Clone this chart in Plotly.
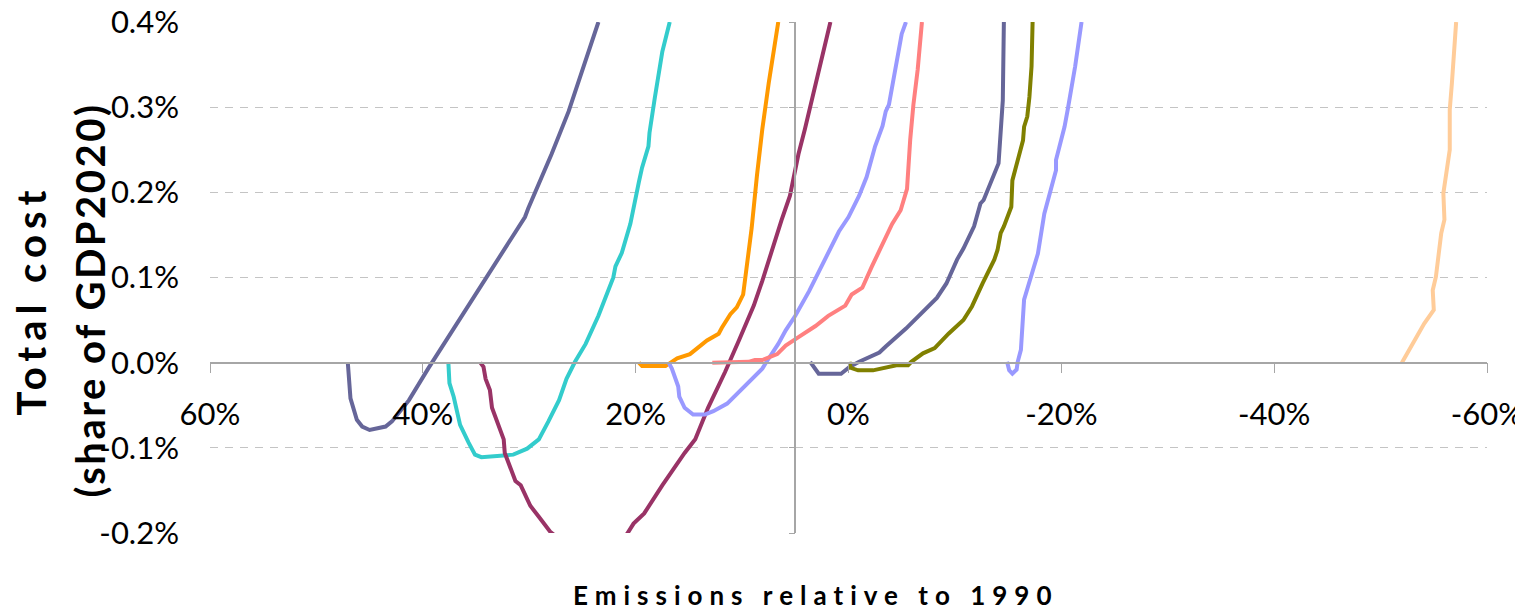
import plotly.graph_objects as go

# ---------------- data (emissions relative to 1990 in %, total cost in % of GDP2020) -------------
s1_x = [47.05, 46.8, 46.2, 45.7, 45.0, 43.5, 42.9, 41.3, 39.5, 36.3, 33.2, 30.4, 30.1, 27.9, 26.3, 25.0, 23.5]
s1_y = [0.0, -0.042, -0.067, -0.075, -0.079, -0.075, -0.069, -0.044, -0.007, 0.055, 0.117, 0.171, 0.181, 0.245, 0.295, 0.344, 0.400]

s2_x = [37.6, 37.5, 37.1, 36.5, 35.7, 35.1, 34.5, 31.5, 30.2, 29.1, 28.2, 27.2, 26.5, 25.7, 24.7, 23.5, 22.1,
        21.9, 21.3, 20.5, 19.7, 19.4, 18.8, 18.7, 18.2, 17.5, 16.8]
s2_y = [0.0, -0.024, -0.040, -0.073, -0.094, -0.108, -0.111, -0.108, -0.101, -0.090, -0.069, -0.044, -0.019,
        0.001, 0.022, 0.055, 0.100, 0.113, 0.129, 0.163, 0.212, 0.229, 0.254, 0.270, 0.311, 0.365, 0.400]

s3_x = [34.6, 34.3, 34.1, 33.7, 33.5, 33.0, 32.4, 32.3, 31.8, 31.3, 30.8, 29.9, 29.1, 28.0, 26.0, 23.0,
        20.8, 20.2, 19.2, 17.5, 15.4, 14.4, 13.2, 11.6, 10.3, 8.9, 8.1, 6.9, 6.3, 5.5, 4.7, 4.1, 3.1, 2.3, 1.7]
s3_y = [0.0, -0.005, -0.019, -0.032, -0.053, -0.069, -0.090, -0.106, -0.123, -0.139, -0.144, -0.168, -0.181,
        -0.199, -0.218, -0.218, -0.201, -0.189, -0.177, -0.144, -0.106, -0.090, -0.053, -0.011, 0.026, 0.067,
        0.096, 0.146, 0.167, 0.196, 0.245, 0.274, 0.328, 0.369, 0.400]

s4_x = [19.7, 19.4, 17.2, 16.1, 14.9, 14.3, 13.3, 12.2, 11.9, 11.1, 10.5, 9.9, 9.6, 9.1, 8.6, 8.1, 7.5, 6.9, 6.6]
s4_y = [0.0, -0.004, -0.004, 0.005, 0.010, 0.016, 0.026, 0.034, 0.041, 0.057, 0.065, 0.080, 0.109, 0.158,
        0.220, 0.274, 0.328, 0.373, 0.400]

s5_x = [16.9, 16.6, 16.0, 15.9, 15.4, 14.6, 13.5, 12.7, 11.4, 10.3, 9.1, 8.1, 7.7, 6.6, 5.9, 5.0, 3.7, 2.2,
        0.9, 0.0, -1.0, -1.7, -2.5, -3.2, -3.5, -3.8, -4.4, -4.7, -5.0, -5.4]
s5_y = [0.0, -0.007, -0.028, -0.040, -0.053, -0.061, -0.061, -0.057, -0.048, -0.034, -0.019, -0.007, 0.001,
        0.022, 0.038, 0.055, 0.084, 0.121, 0.154, 0.171, 0.196, 0.218, 0.254, 0.278, 0.295, 0.303, 0.344,
        0.365, 0.386, 0.400]

s6_x = [12.8, 9.4, 8.8, 8.1, 6.7, 5.9, 4.7, 3.1, 1.9, 0.3, -0.3, -1.3, -2.2, -3.2, -4.1, -4.9, -5.5, -5.8,
        -6.1, -6.5, -6.9]
s6_y = [0.0, 0.001, 0.003, 0.003, 0.010, 0.020, 0.030, 0.043, 0.055, 0.067, 0.080, 0.088, 0.113, 0.138,
        0.163, 0.179, 0.204, 0.262, 0.303, 0.344, 0.400]

s7_x = [3.6, 2.8, 0.7, -0.1, -1.0, -2.9, -3.5, -5.4, -8.3, -9.2, -10.2, -10.8, -11.8, -12.4, -12.7, -14.1,
        -14.5, -14.6]
s7_y = [0.001, -0.013, -0.013, -0.005, 0.001, 0.012, 0.019, 0.040, 0.076, 0.093, 0.121, 0.134, 0.160, 0.187,
        0.191, 0.234, 0.308, 0.400]

s8_x = [-0.1, -0.2, -0.9, -2.3, -4.5, -5.6, -5.9, -7.0, -8.1, -9.4, -10.8, -11.6, -12.6, -13.7, -14.0, -14.3,
        -14.6, -15.3, -15.4, -15.9, -16.4, -16.5, -16.8, -17.0, -17.2, -17.3]
s8_y = [0.001, -0.006, -0.009, -0.009, -0.003, -0.003, 0.001, 0.011, 0.017, 0.034, 0.050, 0.066, 0.093, 0.121,
        0.132, 0.152, 0.160, 0.183, 0.214, 0.238, 0.261, 0.277, 0.289, 0.312, 0.348, 0.400]

s9_x = [-14.9, -15.1, -15.4, -15.8, -15.9, -16.2, -16.5, -17.2, -17.8, -18.4, -19.1, -19.5, -19.5, -20.3,
        -20.6, -21.3, -21.9]
s9_y = [0.001, -0.009, -0.013, -0.008, 0.001, 0.015, 0.074, 0.105, 0.128, 0.175, 0.207, 0.226, 0.238, 0.277,
        0.297, 0.348, 0.400]

s10_x = [-52.0, -52.9, -54.1, -55.0, -54.9, -55.2, -55.7, -56.0, -55.9, -56.5, -56.5, -56.7, -56.8, -57.1]
s10_y = [0.0, 0.019, 0.046, 0.062, 0.085, 0.101, 0.152, 0.168, 0.199, 0.250, 0.297, 0.328, 0.348, 0.400]

series = [
    (s1_x, s1_y, "#666699"),
    (s2_x, s2_y, "#33CCCC"),
    (s3_x, s3_y, "#993366"),
    (s4_x, s4_y, "#FF9900"),
    (s5_x, s5_y, "#9999FF"),
    (s6_x, s6_y, "#FF8080"),
    (s7_x, s7_y, "#666699"),
    (s8_x, s8_y, "#808000"),
    (s9_x, s9_y, "#9999FF"),
    (s10_x, s10_y, "#FFCC99"),
]

x_tickvals = [60, 40, 20, 0, -20, -40, -60]
x_ticktext = ["60%", "40%", "20%", "0%", "-20%", "-40%", "-60%"]
y_tickvals = [-0.2, -0.1, 0.0, 0.1, 0.2, 0.3, 0.4]
y_ticktext = ["-0.2%", "-0.1%", "0.0%", "0.1%", "0.2%", "0.3%", "0.4%"]
x_range = [60, -60]
y_range = [-0.2, 0.4]
v_axis_cross = 5  # vertical axis crosses the horizontal axis at x = 5%

FONT = "Lato, 'Open Sans', sans-serif"
AXIS_GREY = "#A6A6A6"
GRID_GREY = "#C4C4C4"

fig = go.Figure()
for xs, ys, col in series:
    fig.add_trace(go.Scatter(x=xs, y=ys, mode="lines",
                             line=dict(color=col, width=4), showlegend=False,
                             hoverinfo="skip"))

# invisible trace so that the secondary (crossing) vertical axis is drawn
fig.add_trace(go.Scatter(x=[None], y=[None], yaxis="y2", showlegend=False, hoverinfo="skip"))

y0_frac = (0 - y_range[0]) / (y_range[1] - y_range[0])
xcross_frac = (x_range[0] - v_axis_cross) / (x_range[0] - x_range[1])

fig.update_layout(
    width=1515, height=602,
    margin=dict(l=202, r=36, t=14, b=77),
    paper_bgcolor="white", plot_bgcolor="white",
    font=dict(family=FONT, color="black"),
    xaxis=dict(
        range=x_range, anchor="free", position=y0_frac,
        showline=True, linecolor=AXIS_GREY, linewidth=1.5,
        ticks="outside", ticklen=10, tickcolor=AXIS_GREY, tickwidth=1.3,
        tickvals=x_tickvals, ticktext=x_ticktext,
        tickfont=dict(size=31, family=FONT, color="black"),
        ticklabelstandoff=14, ticklabeloverflow="allow",
        showgrid=False, zeroline=False, automargin=False,
    ),
    yaxis=dict(
        range=y_range, tickvals=y_tickvals, ticktext=y_ticktext,
        tickfont=dict(size=31, family=FONT, color="black"),
        showgrid=True, gridcolor=GRID_GREY, gridwidth=1.2, griddash="8px,7px",
        showline=False, zeroline=False, ticks="", ticklabelstandoff=30,
        ticklabeloverflow="allow", automargin=False,
    ),
    yaxis2=dict(
        range=y_range, overlaying="y", anchor="free", position=xcross_frac, side="left",
        showline=True, linecolor=AXIS_GREY, linewidth=1.5,
        ticks="outside", ticklen=6, tickcolor=AXIS_GREY, tickwidth=1.3,
        tickvals=y_tickvals, showticklabels=False,
        showgrid=False, zeroline=False, automargin=False,
    ),
)

fig.add_annotation(text="<b><span style='letter-spacing:6px'>Total cost</span></b>",
                   xref="paper", yref="paper", x=0, y=0.455,
                   xshift=-179, textangle=-90, showarrow=False,
                   xanchor="center", yanchor="middle",
                   font=dict(size=40, family=FONT, color="black"))
fig.add_annotation(text="<b><span style='letter-spacing:2.5px'>(share of GDP2020)</span></b>",
                   xref="paper", yref="paper", x=0, y=0.455,
                   xshift=-120, textangle=-90, showarrow=False,
                   xanchor="center", yanchor="middle",
                   font=dict(size=40, family=FONT, color="black"))
fig.add_annotation(text="<b><span style='letter-spacing:7px'>Emissions relative to 1990</span></b>",
                   xref="paper", yref="paper",
                   x=0.4738, y=-0.121, showarrow=False, xanchor="center", yanchor="middle",
                   font=dict(size=26, family=FONT, color="black"))

fig.write_html("out.html")
